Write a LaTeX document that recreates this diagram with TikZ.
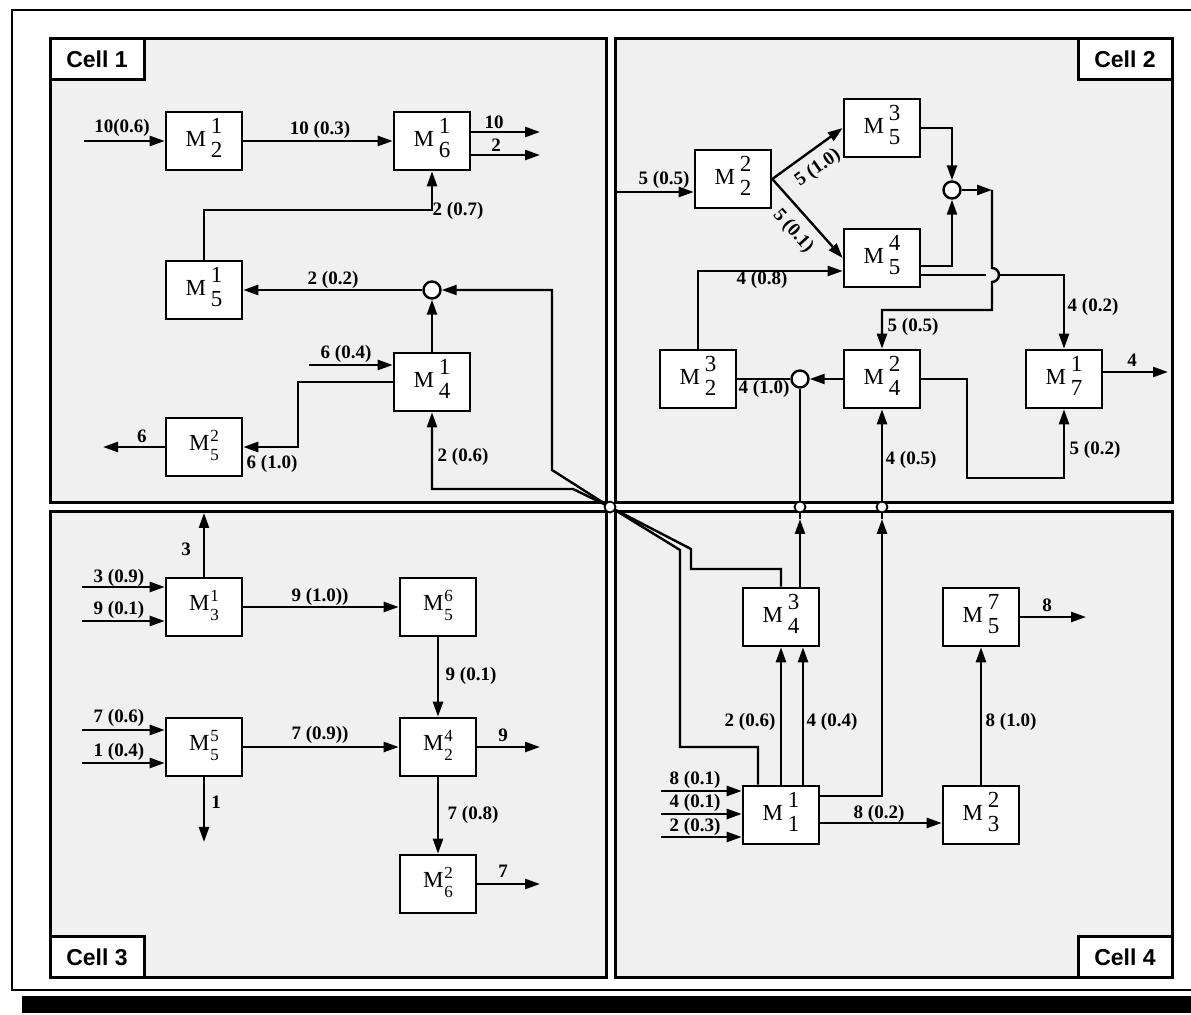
\documentclass[tikz,border=0pt]{standalone}
\usepackage{fontspec}
\setmainfont{Liberation Serif}
\setsansfont{Liberation Sans}
\usetikzlibrary{arrows.meta}

% machine labels: M with stacked indices
\newcommand{\mach}[2]{M\kern2.5pt\begin{tabular}{@{}c@{}}#1\\#2\end{tabular}}
\newcommand{\machlow}[2]{M\kern0.5pt{\fontsize{8.5}{9.5}\selectfont\begin{tabular}{@{}c@{}}#1\\#2\end{tabular}}}

\begin{document}
\begin{tikzpicture}[x=0.5pt, y=-0.5pt,
  cell/.style={draw, line width=1.5pt, fill=black!6, inner sep=0pt, outer sep=0pt},
  celltag/.style={draw, line width=1.5pt, fill=white, inner sep=0pt, outer sep=0pt,
    minimum width=47pt, minimum height=20.5pt, font=\fontsize{11.5}{12}\selectfont\sffamily\bfseries},
  mbox/.style={draw, line width=1.3pt, fill=white, inner sep=0pt,
    minimum width=38pt, minimum height=29pt, font=\fontsize{11.5}{12}\selectfont},
  junc/.style={circle, draw, line width=1.2pt, fill=white, inner sep=0pt, minimum size=8.5pt},
  xing/.style={circle, draw, line width=0.9pt, fill=white, inner sep=0pt, minimum size=5.5pt},
  flow/.style={line width=1.2pt, -{Triangle[length=7.5pt,width=5pt]}},
  link/.style={line width=1.2pt},
  lbl/.style={font=\fontsize{9.5}{10}\selectfont\bfseries, inner sep=0pt}
]
  \useasboundingbox (0,0) rectangle (1191,1015);

  % --- frame ---
  \draw[line width=1pt] (1200,10) -- (12,10) -- (12,990) -- (1200,990);
  \fill (22,996) rectangle (1200,1013);

  % --- cells ---
  \node[cell, minimum width=278pt, minimum height=232pt] (cell1) at (328,271) {};
  \node[cell, minimum width=278.5pt, minimum height=232pt] (cell2) at (893.5,271) {};
  \node[cell, minimum width=278pt, minimum height=233pt] (cell3) at (328,745) {};
  \node[cell, minimum width=278.5pt, minimum height=233pt] (cell4) at (893.5,745) {};
  \node[celltag, anchor=north west] (tag1) at (cell1.north west) {Cell 1};
  \node[celltag, anchor=north east] (tag2) at (cell2.north east) {Cell 2};
  \node[celltag, anchor=south west] (tag3) at (cell3.south west) {Cell 3};
  \node[celltag, anchor=south east] (tag4) at (cell4.south east) {Cell 4};

  % --- machines ---
  \node[mbox] (m21) at (204,141) {\mach{1}{2}};
  \node[mbox] (m61) at (432,141) {\mach{1}{6}};
  \node[mbox] (m51) at (204,290) {\mach{1}{5}};
  \node[mbox] (m41) at (432,382) {\mach{1}{4}};
  \node[mbox] (m52) at (204,447) {\machlow{2}{5}};

  \node[mbox] (m22) at (733,179) {\mach{2}{2}};
  \node[mbox] (m53) at (882,128) {\mach{3}{5}};
  \node[mbox] (m54) at (882,258) {\mach{4}{5}};
  \node[mbox] (m32) at (698,379) {\mach{3}{2}};
  \node[mbox] (m42) at (882,379) {\mach{2}{4}};
  \node[mbox] (m71) at (1064,379) {\mach{1}{7}};

  \node[mbox] (m31) at (204,607) {\machlow{1}{3}};
  \node[mbox] (m56) at (438,607) {\machlow{6}{5}};
  \node[mbox] (m55) at (204,747) {\machlow{5}{5}};
  \node[mbox] (m24) at (438,747) {\machlow{4}{2}};
  \node[mbox] (m26) at (438,884) {\machlow{2}{6}};

  \node[mbox] (m34) at (781,617) {\mach{3}{4}};
  \node[mbox] (m57) at (981,617) {\mach{7}{5}};
  \node[mbox] (m11) at (781,815) {\mach{1}{1}};
  \node[mbox] (m23) at (981,815) {\mach{2}{3}};

  \node[junc] (j1) at (432,290) {};
  \node[junc] (j2) at (952,190) {};
  \node[junc] (j3) at (800,379) {};

  % --- free ends and bends ---
  \coordinate (i21) at (84,141);
  \coordinate (o61a) at (540,132);
  \coordinate (o61b) at (540,155);
  \coordinate (k1) at (432,210);
  \coordinate (i41) at (309,365);
  \coordinate (k2) at (298,447);
  \coordinate (o52) at (103,447);
  \coordinate (i22) at (615,192);
  \coordinate (k4) at (992,190);
  \coordinate (o71) at (1168,372);
  \coordinate (i31a) at (82,587);
  \coordinate (i31b) at (82,621);
  \coordinate (o31) at (204,513);
  \coordinate (i55a) at (82,730);
  \coordinate (i55b) at (82,763);
  \coordinate (o24) at (540,747);
  \coordinate (o55) at (204,842);
  \coordinate (o26) at (540,884);
  \coordinate (i11a) at (661,791);
  \coordinate (i11b) at (661,814);
  \coordinate (i11c) at (661,837);
  \coordinate (o57) at (1086,617);
  \coordinate (s0) at (610,507);
  \coordinate (s1) at (800,507);
  \coordinate (s2) at (882,507);

  % --- cell 1 ---
  \draw[flow] (i21) -- (m21.west);
  \draw[flow] (m21.east) -- (m61.west);
  \draw[flow] (m61.east |- o61a) -- (o61a);
  \draw[flow] (m61.east |- o61b) -- (o61b);
  \draw[flow] (m51.north) |- (k1) -- (m61.south);
  \draw[flow] (j1.west) -- (m51.east);
  \draw[flow] (m41.north) -- (j1.south);
  \draw[flow] (i41) -- (i41 -| m41.west);
  \draw[flow] (m41.west) -| (k2) -- (m52.east);
  \draw[flow] (m52.west) -- (o52);

  % --- cell 2 ---
  \draw[flow] (i22) -- (i22 -| m22.west);
  \draw[flow] (m22.east) -- (m53.west);
  \draw[flow] (m22.east) -- (m54.west);
  \draw[flow] (m53.east) -| (j2.north);
  \draw[flow] ([yshift=-4pt]m54.east) -| (j2.south);
  \draw[flow] (j2.east) -- (k4);
  \draw[flow] (k4) -- (992,268) arc (-90:90:7) -- (992,310) -| (m42.north);
  \draw[flow] ([yshift=-8.5pt]m54.east) -- (986,275) (998,275) -| (m71.north);
  \draw[flow] (m32.north) |- ([yshift=-6.5pt]m54.west);
  \draw[flow] (m42.west) -- (j3.east);
  \draw[link] (j3.west) -- (m32.east);
  \draw[flow] (m42.east) -| (967,478) -| (m71.south);
  \draw[flow] (m71.east |- o71) -- (o71);

  % --- cell 3 ---
  \draw[flow] (i31a) -- (i31a -| m31.west);
  \draw[flow] (i31b) -- (i31b -| m31.west);
  \draw[flow] (m31.north) -- (o31);
  \draw[flow] (m31.east) -- (m56.west);
  \draw[flow] (m56.south) -- (m24.north);
  \draw[flow] (i55a) -- (i55a -| m55.west);
  \draw[flow] (i55b) -- (i55b -| m55.west);
  \draw[flow] (m55.east) -- (m24.west);
  \draw[flow] (m24.east) -- (o24);
  \draw[flow] (m55.south) -- (o55);
  \draw[flow] (m24.south) -- (m26.north);
  \draw[flow] (m26.east) -- (o26);

  % --- cell 4 ---
  \draw[flow] (i11a) -- (i11a -| m11.west);
  \draw[flow] (i11b) -- (i11b -| m11.west);
  \draw[flow] (i11c) -- (i11c -| m11.west);
  \draw[flow] (m11.north) -- (m34.south);
  \draw[flow] ([xshift=11pt]m11.north) -- ([xshift=11pt]m34.south);
  \draw[flow] ([yshift=-4pt]m11.east) -- ([yshift=-4pt]m23.west);
  \draw[flow] (m23.north) -- (m57.south);
  \draw[flow] (m57.east) -- (o57);

  % --- links between cells ---
  \draw[flow] ([xshift=-11.5pt]m11.north) |- (680,747) -- (680,550) -- (s0) -- (552,470) |- (j1.east);
  \draw[flow] (m34.north) |- (691,569) -- (691,549) -- (s0) -- (573,489) -| (m41.south);
  \draw[flow] ([xshift=9.5pt]m34.north) -- ([yshift=-6pt]s1);
  \draw[link] ([yshift=-6pt]s1) -- (j3.south);
  \draw[flow] ([yshift=9.5pt]m11.east) -| ([yshift=-6pt]s2);
  \draw[flow] ([yshift=-6pt]s2) -- (m42.south);
  \node[xing] (x0) at (s0) {};
  \node[xing] (x1) at (s1) {};
  \node[xing] (x2) at (s2) {};

  % --- labels ---
  \node[lbl] (l1) at (122,128) {10(0.6)};
  \node[lbl] (l2) at (320,130) {10 (0.3)};
  \node[lbl] (l3) at (494,122) {10};
  \node[lbl] (l4) at (496,145) {2};
  \node[lbl] (l5) at (458,211) {2 (0.7)};
  \node[lbl] (l6) at (333,280) {2 (0.2)};
  \node[lbl] (l7) at (346,354) {6 (0.4)};
  \node[lbl] (l8) at (272,464) {6 (1.0)};
  \node[lbl] (l9) at (142,436) {6};
  \node[lbl] (l10) at (463,457) {2 (0.6)};

  \node[lbl] (l11) at (664,180) {5 (0.5)};
  \node[lbl, rotate=35] (l12) at (818,168) {5 (1.0)};
  \node[lbl, rotate=-48] (l13) at (793,231) {5 (0.1)};
  \node[lbl] (l14) at (762,280) {4 (0.8)};
  \node[lbl] (l15) at (913,327) {5 (0.5)};
  \node[lbl] (l16) at (1093,307) {4 (0.2)};
  \node[lbl] (l17) at (764,389) {4 (1.0)};
  \node[lbl] (l18) at (1132,360) {4};
  \node[lbl] (l19) at (1095,450) {5 (0.2)};
  \node[lbl] (l20) at (911,460) {4 (0.5)};

  \node[lbl] (l21) at (186,549) {3};
  \node[lbl] (l22) at (119,578) {3 (0.9)};
  \node[lbl] (l23) at (119,610) {9 (0.1)};
  \node[lbl] (l24) at (320,597) {9 (1.0))};
  \node[lbl] (l25) at (471,676) {9 (0.1)};
  \node[lbl] (l26) at (119,718) {7 (0.6)};
  \node[lbl] (l27) at (119,752) {1 (0.4)};
  \node[lbl] (l28) at (320,735) {7 (0.9))};
  \node[lbl] (l29) at (503,735) {9};
  \node[lbl] (l30) at (216,802) {1};
  \node[lbl] (l31) at (473,815) {7 (0.8)};
  \node[lbl] (l32) at (503,871) {7};

  \node[lbl] (l33) at (750,722) {2 (0.6)};
  \node[lbl] (l34) at (832,722) {4 (0.4)};
  \node[lbl] (l35) at (1011,722) {8 (1.0)};
  \node[lbl] (l36) at (1047,605) {8};
  \node[lbl] (l37) at (695,780) {8 (0.1)};
  \node[lbl] (l38) at (695,803) {4 (0.1)};
  \node[lbl] (l39) at (695,827) {2 (0.3)};
  \node[lbl] (l40) at (879,814) {8 (0.2)};
\end{tikzpicture}
\end{document}
